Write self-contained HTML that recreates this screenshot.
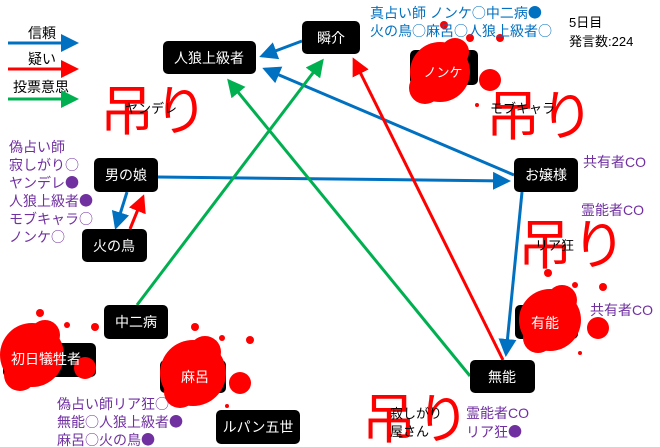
<!DOCTYPE html><html><head><meta charset="utf-8"><style>
body{margin:0;background:#fff}
svg{display:block;font-family:"Liberation Sans","Noto Sans CJK JP",sans-serif}
.n{fill:#000}
.w{fill:#fff;font-size:14px;text-anchor:middle}
.p{fill:#7030a0;font-size:14px}
.b{fill:#0070c0;font-size:14px}
.p tspan,.b tspan{font-family:"Noto Sans CJK JP",sans-serif}
.k{fill:#000;font-size:13px}
.t{fill:#f00;font-size:54px;font-family:"Noto Sans CJK JP",sans-serif}
</style></head><body>
<svg width="660" height="447" viewBox="0 0 660 447">
<defs>
<marker id="ab" markerWidth="6" markerHeight="6" refX="5" refY="3" orient="auto" markerUnits="strokeWidth"><path d="M0,0L6,3L0,6z" fill="#0070c0"/></marker>
<marker id="ar" markerWidth="6" markerHeight="6" refX="5" refY="3" orient="auto" markerUnits="strokeWidth"><path d="M0,0L6,3L0,6z" fill="#f00"/></marker>
<marker id="ag" markerWidth="6" markerHeight="6" refX="5" refY="3" orient="auto" markerUnits="strokeWidth"><path d="M0,0L6,3L0,6z" fill="#00b050"/></marker>
</defs>
<text x="28" y="38" class="k" style="font-size:14px">信頼</text>
<line x1="8" y1="43" x2="76" y2="43" stroke="#0070c0" stroke-width="3" marker-end="url(#ab)"/>
<text x="28" y="64" class="k" style="font-size:14px">疑い</text>
<line x1="8" y1="69" x2="76" y2="69" stroke="#f00" stroke-width="3" marker-end="url(#ar)"/>
<text x="13" y="92" class="k" style="font-size:14px">投票意思</text>
<line x1="8" y1="99" x2="76" y2="99" stroke="#00b050" stroke-width="3" marker-end="url(#ag)"/>

<g stroke-width="3" fill="none">
<line x1="302" y1="41" x2="262" y2="56" stroke="#0070c0" marker-end="url(#ab)"/>
<line x1="514" y1="175" x2="265" y2="69" stroke="#0070c0" marker-end="url(#ab)"/>
<line x1="158" y1="177" x2="508" y2="181" stroke="#0070c0" marker-end="url(#ab)"/>
<line x1="127" y1="192" x2="116" y2="227" stroke="#0070c0" marker-end="url(#ab)"/>
<line x1="130" y1="229" x2="143" y2="197" stroke="#f00" marker-end="url(#ar)"/>
<line x1="503" y1="360" x2="354" y2="60" stroke="#f00" marker-end="url(#ar)"/>
<line x1="522" y1="192" x2="506" y2="354" stroke="#0070c0" marker-end="url(#ab)"/>
<line x1="137" y1="305" x2="322" y2="61" stroke="#00b050" marker-end="url(#ag)"/>
<line x1="470" y1="376" x2="229" y2="81" stroke="#00b050" marker-end="url(#ag)"/>
</g>

<rect x="163" y="41" width="93" height="33" rx="5" class="n"/><text x="209" y="63" class="w">人狼上級者</text>
<rect x="302" y="21" width="58" height="33" rx="5" class="n"/><text x="331" y="43" class="w">瞬介</text>
<rect x="94" y="158" width="64" height="34" rx="5" class="n"/><text x="126" y="180" class="w">男の娘</text>
<rect x="82" y="229" width="65" height="33" rx="5" class="n"/><text x="114" y="251" class="w">火の鳥</text>
<rect x="514" y="158" width="64" height="34" rx="5" class="n"/><text x="546" y="180" class="w">お嬢様</text>
<rect x="104" y="305" width="64" height="34" rx="5" class="n"/><text x="136" y="327" class="w">中二病</text>
<rect x="216" y="410" width="84" height="34" rx="5" class="n"/><text x="258" y="432" class="w">ルパン五世</text>
<rect x="470" y="360" width="65" height="33" rx="5" class="n"/><text x="502" y="382" class="w">無能</text>
<rect x="3" y="343" width="93" height="34" rx="5" class="n"/>
<rect x="160" y="360" width="66" height="33" rx="5" class="n"/>
<rect x="515" y="305" width="63" height="34" rx="5" class="n"/>
<rect x="410" y="50" width="68" height="35" rx="5" class="n"/>

<g fill="#f00">
<circle cx="440" cy="72" r="30"/><circle cx="425" cy="88" r="16"/><circle cx="455" cy="52" r="14"/><circle cx="490" cy="80" r="11"/><circle cx="444" cy="25" r="4"/><circle cx="470" cy="38" r="4"/><circle cx="500" cy="38" r="4"/><circle cx="477" cy="105" r="2"/>
<circle cx="32" cy="355" r="32"/><circle cx="20" cy="375" r="16"/><circle cx="45" cy="335" r="15"/><circle cx="85" cy="368" r="11"/><circle cx="40" cy="313" r="4"/><circle cx="67" cy="325" r="3"/><circle cx="95" cy="327" r="4"/>
<circle cx="193" cy="373" r="33"/><circle cx="180" cy="392" r="16"/><circle cx="205" cy="352" r="16"/><circle cx="240" cy="383" r="11"/><circle cx="195" cy="327" r="4"/><circle cx="222" cy="338" r="3"/><circle cx="250" cy="340" r="4"/><circle cx="227" cy="406" r="2"/>
<circle cx="550" cy="320" r="31"/><circle cx="538" cy="338" r="15"/><circle cx="562" cy="300" r="15"/><circle cx="598" cy="328" r="11"/><circle cx="548" cy="273" r="4"/><circle cx="575" cy="285" r="3"/><circle cx="603" cy="287" r="4"/><circle cx="580" cy="353" r="2"/>
</g>
<text x="443" y="77" class="w" style="font-size:13px">ノンケ</text>
<text x="46" y="364" class="w">初日犠牲者</text>
<text x="195" y="382" class="w">麻呂</text>
<text x="545" y="328" class="w">有能</text>

<text x="100" y="130" class="t">吊り</text>
<text x="125" y="113" class="k">ヤンデレ</text>
<text x="486" y="135" class="t">吊り</text>
<text x="490" y="113" class="k">モブキャラ</text>
<text x="518" y="264" class="t">吊り</text>
<text x="535" y="250" class="k">リア狂</text>
<text x="362" y="438" class="t">吊り</text>
<text x="390" y="418" class="k">寂しがり</text>
<text x="390" y="436" class="k">屋さん</text>

<text x="9" y="152" class="p">偽占い師</text>
<text x="9" y="170" class="p">寂しがり<tspan>○</tspan></text>
<text x="9" y="188" class="p">ヤンデレ<tspan>●</tspan></text>
<text x="9" y="206" class="p">人狼上級者<tspan>●</tspan></text>
<text x="9" y="224" class="p">モブキャラ<tspan>○</tspan></text>
<text x="9" y="242" class="p">ノンケ<tspan>○</tspan></text>
<text x="583" y="167" class="p">共有者CO</text>
<text x="581" y="215" class="p">霊能者CO</text>
<text x="590" y="315" class="p">共有者CO</text>
<text x="57" y="409" class="p">偽占い師リア狂<tspan>○</tspan></text>
<text x="57" y="427" class="p">無能<tspan>○</tspan>人狼上級者<tspan>●</tspan></text>
<text x="57" y="445" class="p">麻呂<tspan>○</tspan>火の鳥<tspan>●</tspan></text>
<text x="466" y="418" class="p">霊能者CO</text>
<text x="466" y="437" class="p">リア狂<tspan>●</tspan></text>
<text x="370" y="18" class="b">真占い師 ノンケ<tspan>○</tspan>中二病<tspan>●</tspan></text>
<text x="370" y="36" class="b">火の鳥<tspan>○</tspan>麻呂<tspan>○</tspan>人狼上級者<tspan>○</tspan></text>
<text x="569" y="27" class="k">5日目</text>
<text x="569" y="46" class="k">発言数:224</text>
</svg></body></html>
